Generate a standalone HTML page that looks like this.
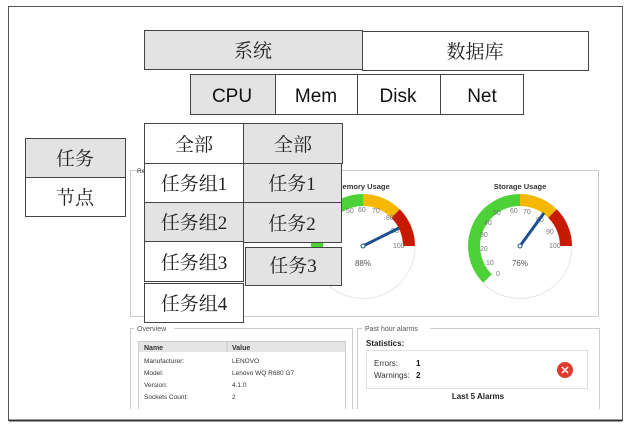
<!DOCTYPE html>
<html><head><meta charset="utf-8"><style>
html,body{margin:0;padding:0;background:#fff;width:632px;height:431px;overflow:hidden}
svg{display:block}
.cn{font-family:"Liberation Serif","Noto Serif CJK SC",serif;font-size:19px;fill:#222}
.en{font-family:"Liberation Sans",sans-serif;font-size:19px;fill:#111}
.sm{font-family:"Liberation Sans",sans-serif;font-size:6.5px;fill:#333}
.gl{font-family:"Liberation Sans",sans-serif;font-size:7px;fill:#777}
</style></head><body>
<svg width="632" height="431" viewBox="0 0 632 431">
<rect x="8.5" y="6.5" width="614" height="414" fill="#fff" stroke="#555" stroke-width="1"/>
<line x1="9" y1="420.5" x2="622" y2="420.5" stroke="#333" stroke-width="2"/>

<rect x="130.5" y="170.5" width="468" height="146" fill="#fff" stroke="#ccc"/>
<text x="137" y="173" class="sm" fill="#888">Re</text>

<g>
<text x="363" y="189" text-anchor="middle" style="font-family:'Liberation Sans',sans-serif;font-size:7.5px;font-weight:bold;fill:#333">Memory Usage</text>
<path d="M415,246 A52,52 0 0 1 326,283" fill="none" stroke="#e6e6e6" stroke-width="1"/>
<path d="M330.5,278.5 A46,46 0 0 1 363,200" fill="none" stroke="#4cd137" stroke-width="12"/>
<path d="M363,200 A46,46 0 0 1 395.5,213.5" fill="none" stroke="#f5b800" stroke-width="12"/>
<path d="M395.5,213.5 A46,46 0 0 1 409,246" fill="none" stroke="#c81a00" stroke-width="12"/>
<text x="346" y="213" class="gl">50</text><text x="358" y="212" class="gl">60</text><text x="372" y="213" class="gl">70</text><text x="386" y="220" class="gl">80</text><text x="391" y="233" class="gl">90</text><text x="393" y="248" class="gl">100</text>
<text x="363" y="266" text-anchor="middle" class="gl" style="font-size:8px;fill:#555">88%</text>
<line x1="363" y1="246" x2="399" y2="228" stroke="#1b4f8f" stroke-width="3"/>
<circle cx="363" cy="246" r="2" fill="#fff" stroke="#1b4f8f"/>
</g>
<g>
<text x="520" y="189" text-anchor="middle" style="font-family:'Liberation Sans',sans-serif;font-size:7.5px;font-weight:bold;fill:#333">Storage Usage</text>
<path d="M572,246 A52,52 0 0 1 483,283" fill="none" stroke="#e6e6e6" stroke-width="1"/>
<path d="M487.5,278.5 A46,46 0 0 1 520,200" fill="none" stroke="#4cd137" stroke-width="12"/>
<path d="M520,200 A46,46 0 0 1 552.5,213.5" fill="none" stroke="#f5b800" stroke-width="12"/>
<path d="M552.5,213.5 A46,46 0 0 1 566,246" fill="none" stroke="#c81a00" stroke-width="12"/>
<text x="496" y="276" class="gl">0</text><text x="486" y="265" class="gl">10</text><text x="480" y="251" class="gl">20</text><text x="480" y="237" class="gl">30</text><text x="484" y="225" class="gl">40</text><text x="493" y="215" class="gl">50</text><text x="510" y="213" class="gl">60</text><text x="523" y="214" class="gl">70</text><text x="536" y="222" class="gl">80</text><text x="546" y="234" class="gl">90</text><text x="549" y="248" class="gl">100</text>
<text x="520" y="266" text-anchor="middle" class="gl" style="font-size:8px;fill:#555">76%</text>
<line x1="520" y1="246" x2="544" y2="213" stroke="#1b4f8f" stroke-width="3"/>
<circle cx="520" cy="246" r="2" fill="#fff" stroke="#1b4f8f"/>
</g>

<path d="M130.5,409 V328.5 H352.5 V409" fill="none" stroke="#ccc"/>
<rect x="134" y="325" width="40" height="7" fill="#fff"/>
<text x="137" y="331" class="sm" style="font-size:7px;fill:#555">Overview</text>
<path d="M138.5,409 V341.5 H345.5 V409" fill="none" stroke="#ccc"/>
<rect x="139" y="342" width="206" height="10" fill="#e4e4e4"/>
<line x1="227" y1="342" x2="227" y2="352" stroke="#ccc"/>
<text x="144" y="350" class="sm" style="font-weight:bold;font-size:7px">Name</text>
<text x="232" y="350" class="sm" style="font-weight:bold;font-size:7px">Value</text>
<text x="144" y="363" class="sm">Manufacturer:</text><text x="232" y="363" class="sm">LENOVO</text>
<text x="144" y="375" class="sm">Model:</text><text x="232" y="375" class="sm">Lenovo WQ R680 G7</text>
<text x="144" y="387" class="sm">Version:</text><text x="232" y="387" class="sm">4.1.0</text>
<text x="144" y="399" class="sm">Sockets Count:</text><text x="232" y="399" class="sm">2</text>

<path d="M357.5,409 V328.5 H599.5 V409" fill="none" stroke="#ccc"/>
<rect x="362" y="325" width="68" height="7" fill="#fff"/>
<text x="365" y="331" class="sm" style="font-size:7px;fill:#555">Past hour alarms</text>
<text x="366" y="346" class="sm" style="font-weight:bold;font-size:8px;fill:#222">Statistics:</text>
<rect x="366.5" y="350.5" width="221" height="38" fill="#fff" stroke="#ddd"/>
<text x="374" y="366" class="sm" style="font-size:8px">Errors:</text><text x="416" y="366" class="sm" style="font-size:8px;font-weight:bold;fill:#111">1</text>
<text x="374" y="378" class="sm" style="font-size:8px">Warnings:</text><text x="416" y="378" class="sm" style="font-size:8px;font-weight:bold;fill:#111">2</text>
<circle cx="565" cy="370" r="8" fill="#e03a2f"/>
<text x="565" y="374" text-anchor="middle" style="font-family:'Liberation Sans',sans-serif;font-size:11px;font-weight:bold;fill:#fff">✕</text>
<text x="478" y="399" text-anchor="middle" class="sm" style="font-size:8px;font-weight:bold;fill:#222">Last 5 Alarms</text>

<g stroke="#444" stroke-width="1">
<rect x="144.5" y="30.5" width="218" height="39" fill="#e3e3e3"/>
<rect x="362.5" y="31.5" width="226" height="39" fill="#fff"/>
<rect x="190.5" y="74.5" width="85" height="40" fill="#e3e3e3"/>
<rect x="275.5" y="74.5" width="82" height="40" fill="#fff"/>
<rect x="357.5" y="74.5" width="83" height="40" fill="#fff"/>
<rect x="440.5" y="74.5" width="83" height="40" fill="#fff"/>
<rect x="25.5" y="138.5" width="100" height="39" fill="#e3e3e3"/>
<rect x="25.5" y="177.5" width="100" height="39" fill="#fff"/>
<rect x="144.5" y="123.5" width="99" height="40" fill="#fff"/>
<rect x="243.5" y="123.5" width="99" height="40" fill="#e3e3e3"/>
<rect x="144.5" y="163.5" width="99" height="39" fill="#fff"/>
<rect x="243.5" y="163.5" width="98" height="39" fill="#e3e3e3"/>
<rect x="144.5" y="202.5" width="99" height="39" fill="#e3e3e3"/>
<rect x="243.5" y="202.5" width="98" height="40" fill="#e3e3e3"/>
<rect x="144.5" y="241.5" width="99" height="40" fill="#fff"/>
<rect x="245.5" y="247.5" width="96" height="38" fill="#e3e3e3"/>
<rect x="144.5" y="283.5" width="99" height="39" fill="#fff"/>
</g>
<text x="253" y="57" text-anchor="middle" class="cn">系统</text>
<text x="475" y="58" text-anchor="middle" class="cn">数据库</text>
<text x="232" y="102" text-anchor="middle" class="en">CPU</text>
<text x="316" y="102" text-anchor="middle" class="en">Mem</text>
<text x="398" y="102" text-anchor="middle" class="en">Disk</text>
<text x="482" y="102" text-anchor="middle" class="en">Net</text>
<text x="75" y="165" text-anchor="middle" class="cn">任务</text>
<text x="75" y="204" text-anchor="middle" class="cn">节点</text>
<text x="194" y="151" text-anchor="middle" class="cn">全部</text>
<text x="293" y="151" text-anchor="middle" class="cn">全部</text>
<text x="194" y="190" text-anchor="middle" class="cn">任务组1</text>
<text x="292" y="190" text-anchor="middle" class="cn">任务1</text>
<text x="194" y="229" text-anchor="middle" class="cn">任务组2</text>
<text x="292" y="230" text-anchor="middle" class="cn">任务2</text>
<text x="194" y="269" text-anchor="middle" class="cn">任务组3</text>
<text x="293" y="272" text-anchor="middle" class="cn">任务3</text>
<text x="194" y="310" text-anchor="middle" class="cn">任务组4</text>
</svg>
</body></html>
